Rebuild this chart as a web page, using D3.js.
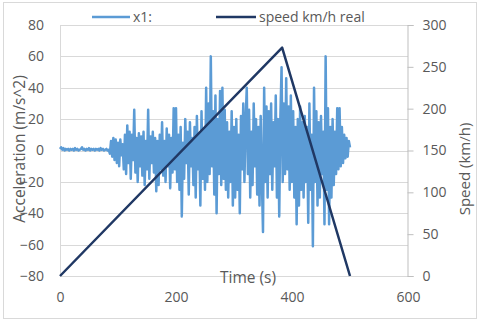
<!DOCTYPE html>
<html><head><meta charset="utf-8">
<script src="https://cdn.jsdelivr.net/npm/d3@7"></script>
<style>
html,body{margin:0;padding:0;background:#fff;}
svg{display:block;font-family:"Open Sans",sans-serif;}
</style></head>
<body><div id="chart"></div>
<script>
// ---- data ----
const accelStart = 0;      // s
const accelStep = 2;       // s between samples
const accelValues = [
  1, 2, 0.5, 1.5, 0, 1, 0.5, 1, 0, 1,
  0.5, 1, 0, 1.5, 0.5, 1, 0, 0.5, 1, 2,
  0.5, 1, 0, 1, 0.5, 1.5, 0, 1, 0.5, 1,
  0, 1, 0.5, 1, 0, 1.5, 0.5, 1, 0, 0.5,
  1, 0, 0.5, -2, 6, -4, 8, -6, 7, -8,
  5, -10, 7, -3, 4, -12, 10, -15, 16, -8,
  12, -18, 10, -6, 26, -14, 8, -20, 11, -10,
  9, -16, 12, -22, 6, -12, 26, -18, 9, -8,
  12, -14, 8, -26, 6, -22, 10, -12, 18, -16,
  6, -20, 14, -10, 10, -24, 8, -14, 27, -12,
  27, -20, 10, -25, 15, -42, 5, -18, 20, -8,
  12, -28, 18, -10, 8, -22, 15, -30, 22, -12,
  10, -35, 25, -18, 14, -25, 40, -20, 30, -15,
  60, -10, 25, -28, 35, -40, 20, -15, 38, -22,
  40, -18, 26, -25, 18, -30, 12, -20, 25, -35,
  15, -30, 20, -25, 10, -40, 22, -12, 30, -20,
  18, 40, -15, 26, -30, 12, -22, 30, -10, 20,
  -28, 15, -35, 22, -18, -52, 40, -20, 28, -30,
  25, -15, 30, -25, 18, -10, 35, -30, 20, -42,
  22, 53, -20, 30, -15, 46, -12, 28, -25, 35,
  -20, 25, -30, 15, -47, 20, -35, 28, -25, 18,
  -30, 22, -20, 15, -46, 30, -25, 10, -61, 40,
  -20, 25, -35, 18, -30, 22, -15, 12, -47, 60,
  -25, 27, -47, 15, -30, 20, -22, 12, -15, 27,
  -12, 27, -10, 15, -8, 10, -5, 8, -4, 6,
  2
];
const speedTimes = [0, 383, 500];
const speedValues = [0, 273, 0];
const xTicks = [0, 200, 400, 600];
const yLeftTicks = [-80, -60, -40, -20, 0, 20, 40, 60, 80];
const yRightTicks = [0, 50, 100, 150, 200, 250, 300];
const seriesNames = ["x1:", "speed km/h real"];
const axisTitles = {x: "Time (s)", yLeft: "Acceleration (m/s^2)", yRight: "Speed (km/h)"};

// ---- chart ----
const W = 480, H = 322;
const plot = {left: 60, right: 408, top: 25, bottom: 276};
const colAcc = "#5b9bd5", colSpeed = "#203864", txt = "#595959";

const accData = accelValues.map((v, i) => ({t: accelStart + i * accelStep, v}));
const spdData = speedTimes.map((t, i) => ({t, v: speedValues[i]}));

const x = d3.scaleLinear().domain([0, 600]).range([plot.left, plot.right]);
const yL = d3.scaleLinear().domain([-80, 80]).range([plot.bottom, plot.top]);
const yR = d3.scaleLinear().domain([0, 300]).range([plot.bottom, plot.top]);

const svg = d3.select("#chart").append("svg").attr("width", W).attr("height", H);
svg.append("rect").attr("x", 3.5).attr("y", 2.5).attr("width", 473).attr("height", 316)
  .attr("fill", "#fff").attr("stroke", "#d9d9d9");

// gridlines
svg.append("g").selectAll("line").data(yLeftTicks).join("line")
  .attr("x1", plot.left).attr("x2", plot.right)
  .attr("y1", d => Math.round(yL(d)) + 0.5).attr("y2", d => Math.round(yL(d)) + 0.5)
  .attr("stroke", "#d9d9d9").attr("stroke-width", 1);
// left vertical axis line
svg.append("line").attr("x1", plot.left + 0.5).attr("x2", plot.left + 0.5)
  .attr("y1", plot.top).attr("y2", plot.bottom).attr("stroke", "#d9d9d9");

// left axis labels
const gL = svg.append("g").attr("transform", `translate(${plot.left},0)`)
  .call(d3.axisLeft(yL).tickValues(yLeftTicks).tickSize(0).tickPadding(16).tickFormat(d3.format("d")));
gL.select(".domain").remove();
gL.selectAll("text").attr("fill", txt).attr("font-size", 14).attr("font-family", "Open Sans");

// right axis
const gR = svg.append("g").attr("transform", `translate(${plot.right - 0.5},0)`)
  .call(d3.axisRight(yR).tickValues(yRightTicks).tickSize(6).tickPadding(9).tickFormat(d3.format("d")));
gR.select(".domain").attr("stroke", "#bfbfbf");
gR.selectAll("line").attr("stroke", "#bfbfbf");
gR.selectAll("text").attr("fill", txt).attr("font-size", 14).attr("font-family", "Open Sans");

// bottom axis labels
const gB = svg.append("g").attr("transform", `translate(0,${plot.bottom})`)
  .call(d3.axisBottom(x).tickValues(xTicks).tickSize(0).tickPadding(16).tickFormat(d3.format("d")));
gB.select(".domain").remove();
gB.selectAll("text").attr("fill", txt).attr("font-size", 14).attr("font-family", "Open Sans");

// series
svg.append("path").datum(accData)
  .attr("d", d3.line().x(d => x(d.t)).y(d => yL(d.v)))
  .attr("fill", "none").attr("stroke", colAcc).attr("stroke-width", 2.5).attr("stroke-linejoin", "round");
svg.append("path").datum(spdData)
  .attr("d", d3.line().x(d => x(d.t)).y(d => yR(d.v)))
  .attr("fill", "none").attr("stroke", colSpeed).attr("stroke-width", 2.5).attr("stroke-linejoin", "round");

// axis titles
svg.append("text").attr("x", 248).attr("y", 283).attr("text-anchor", "middle")
  .attr("fill", txt).attr("font-size", 15.5).text(axisTitles.x);
svg.append("text").attr("transform", "translate(25,149) rotate(-90)").attr("text-anchor", "middle")
  .attr("fill", txt).attr("font-size", 15.5).text(axisTitles.yLeft);
svg.append("text").attr("transform", "translate(470,169) rotate(-90)").attr("text-anchor", "middle")
  .attr("fill", txt).attr("font-size", 15).text(axisTitles.yRight);

// legend
const legend = [
  {name: seriesNames[0], color: colAcc, x1: 92, x2: 130, tx: 133},
  {name: seriesNames[1], color: colSpeed, x1: 216, x2: 256, tx: 259}
];
const lg = svg.append("g");
lg.selectAll("line").data(legend).join("line")
  .attr("x1", d => d.x1).attr("x2", d => d.x2).attr("y1", 17).attr("y2", 17)
  .attr("stroke", d => d.color).attr("stroke-width", d => d.color === colSpeed ? 2.5 : 2.5);
lg.selectAll("text").data(legend).join("text")
  .attr("x", d => d.tx).attr("y", 22).attr("fill", txt).attr("font-size", 14).text(d => d.name);
</script></body></html>
